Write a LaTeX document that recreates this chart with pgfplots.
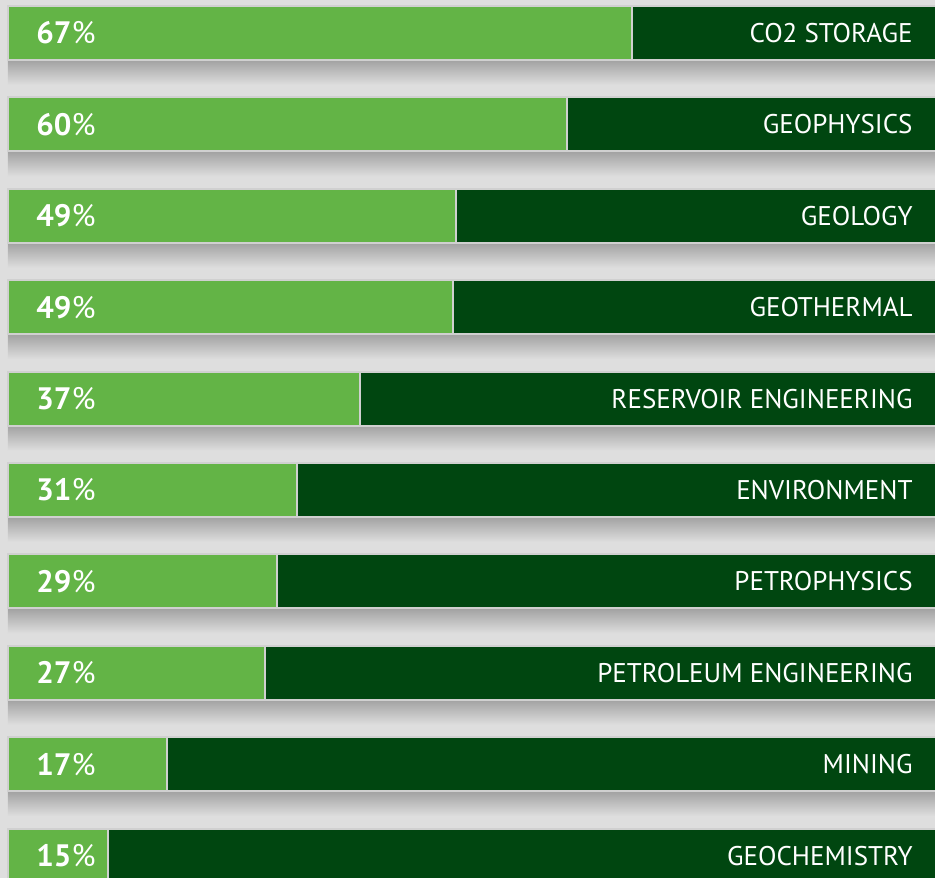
\documentclass[border=0pt]{standalone}
\usepackage{fontspec}
\setmainfont{PT Sans}
\usepackage{pgfplots}
\usepackage{pgfplotstable}
\pgfplotsset{compat=1.18}
\definecolor{lightg}{HTML}{63B446}
\definecolor{darkg}{HTML}{004610}
\definecolor{bord}{HTML}{D0D0D0}
\definecolor{bg}{HTML}{DEDEDE}
\definecolor{shad}{HTML}{A4A4A4}

% y = row centre (px from top), v = drawn length of light bar (percent of scale)
\pgfplotstableread{
y     v     rest
33    66.9  33.1
124.4 59.9  40.1
215.8 48.0  52.0
307.2 47.7  52.3
398.6 37.7  62.3
490   31.0  69.0
581.4 28.8  71.2
672.8 27.5  72.5
764.2 17.0  83.0
855.6 10.7  89.3
}\tabmain

\tikzset{pct/.style={anchor=west, inner sep=0pt, text=white, font=\fontsize{15.5}{17}\selectfont},
         cat/.style={anchor=east, inner sep=0pt, text=white, font=\fontsize{13.5}{15}\selectfont},
         shadowbar/.style={draw=none, bar shift=0pt, top color=shad, bottom color=bg}}

\pgfplotsset{
  base/.style={
    scale only axis, width=467.5pt, height=439pt,
    xmin=-0.857, xmax=99.36, ymin=0, ymax=878,
    y dir=reverse, enlargelimits=false,
    axis line style={draw=none}, ticks=none,
  }
}

\begin{document}
\begin{tikzpicture}
% drop shadows under the bars
\begin{axis}[base, xbar, bar width=24,
  axis background/.style={fill=bg}]
  \addplot[shadowbar] coordinates {(100,73)};
  \addplot[shadowbar] coordinates {(100,164.4)};
  \addplot[shadowbar] coordinates {(100,255.8)};
  \addplot[shadowbar] coordinates {(100,347.2)};
  \addplot[shadowbar] coordinates {(100,438.6)};
  \addplot[shadowbar] coordinates {(100,530)};
  \addplot[shadowbar] coordinates {(100,621.4)};
  \addplot[shadowbar] coordinates {(100,712.8)};
  \addplot[shadowbar] coordinates {(100,804.2)};
\end{axis}
% the bars
\begin{axis}[base, xbar stacked, bar width=54]
  \addplot[fill=lightg, draw=bord, line width=1pt] table[x=v, y=y] {\tabmain};
  \addplot[fill=darkg, draw=bord, line width=1pt] table[x=rest, y=y] {\tabmain};
\end{axis}
% labels
\begin{axis}[base]
  \node[pct] at (axis cs:3,33) {\textbf{67}\%};
  \node[pct] at (axis cs:3,124.4) {\textbf{60}\%};
  \node[pct] at (axis cs:3,215.8) {\textbf{49}\%};
  \node[pct] at (axis cs:3,307.2) {\textbf{49}\%};
  \node[pct] at (axis cs:3,398.6) {\textbf{37}\%};
  \node[pct] at (axis cs:3,490) {\textbf{31}\%};
  \node[pct] at (axis cs:3,581.4) {\textbf{29}\%};
  \node[pct] at (axis cs:3,672.8) {\textbf{27}\%};
  \node[pct] at (axis cs:3,764.2) {\textbf{17}\%};
  \node[pct] at (axis cs:3,855.6) {\textbf{15}\%};
  \node[cat] at (axis cs:97,33) {CO2 STORAGE};
  \node[cat] at (axis cs:97,124.4) {GEOPHYSICS};
  \node[cat] at (axis cs:97,215.8) {GEOLOGY};
  \node[cat] at (axis cs:97,307.2) {GEOTHERMAL};
  \node[cat] at (axis cs:97,398.6) {RESERVOIR ENGINEERING};
  \node[cat] at (axis cs:97,490) {ENVIRONMENT};
  \node[cat] at (axis cs:97,581.4) {PETROPHYSICS};
  \node[cat] at (axis cs:97,672.8) {PETROLEUM ENGINEERING};
  \node[cat] at (axis cs:97,764.2) {MINING};
  \node[cat] at (axis cs:97,855.6) {GEOCHEMISTRY};
\end{axis}
\end{tikzpicture}
\end{document}
